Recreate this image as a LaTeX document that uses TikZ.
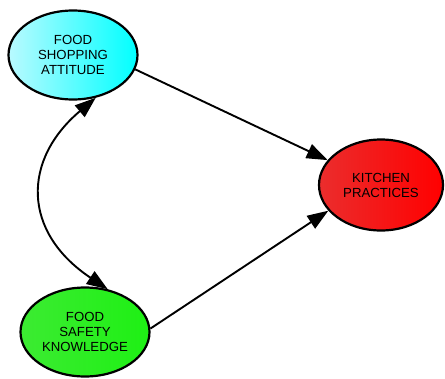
\documentclass[tikz,border=0pt]{standalone}
\usepackage{fontspec}
\setmainfont{Liberation Sans}
\usetikzlibrary{shapes.geometric,arrows.meta,calc}
\begin{document}
\begin{tikzpicture}[x=1pt,y=-1pt,
  var/.style={ellipse,draw=black,line width=2.2pt,inner sep=0pt,
    minimum width=129pt,minimum height=89pt,align=center,
    font=\fontsize{13.2}{15}\selectfont},
  conn/.style={line width=1.9pt,-{Triangle[length=21pt,width=15pt]}},
  dconn/.style={line width=1.9pt,{Triangle[length=21pt,width=15pt]}-{Triangle[length=21pt,width=15pt]}}]
\useasboundingbox (0,0) rectangle (445,378);
\node[var,left color={rgb,255:red,185;green,250;blue,255},right color=cyan] (fsa) at (73,55) {FOOD\\SHOPPING\\ATTITUDE};
\node[var,left color={rgb,255:red,235;green,45;blue,45},right color=red,minimum width=124pt,minimum height=91pt] (kp) at (381,185) {KITCHEN\\PRACTICES};
\node[var,left color={rgb,255:red,60;green,235;blue,50},right color={rgb,255:red,30;green,240;blue,20}] (fsk) at (85,332) {FOOD\\SAFETY\\KNOWLEDGE};
\draw[conn] (fsa.-13) -- (kp.155);
\draw[conn] (fsk.3) -- (kp.206);
\coordinate (c1) at (22,160);
\coordinate (c2) at (22,232);
\draw[dconn] (fsa.-62) .. controls (c1) and (c2) .. (fsk.62);
\end{tikzpicture}
\end{document}
